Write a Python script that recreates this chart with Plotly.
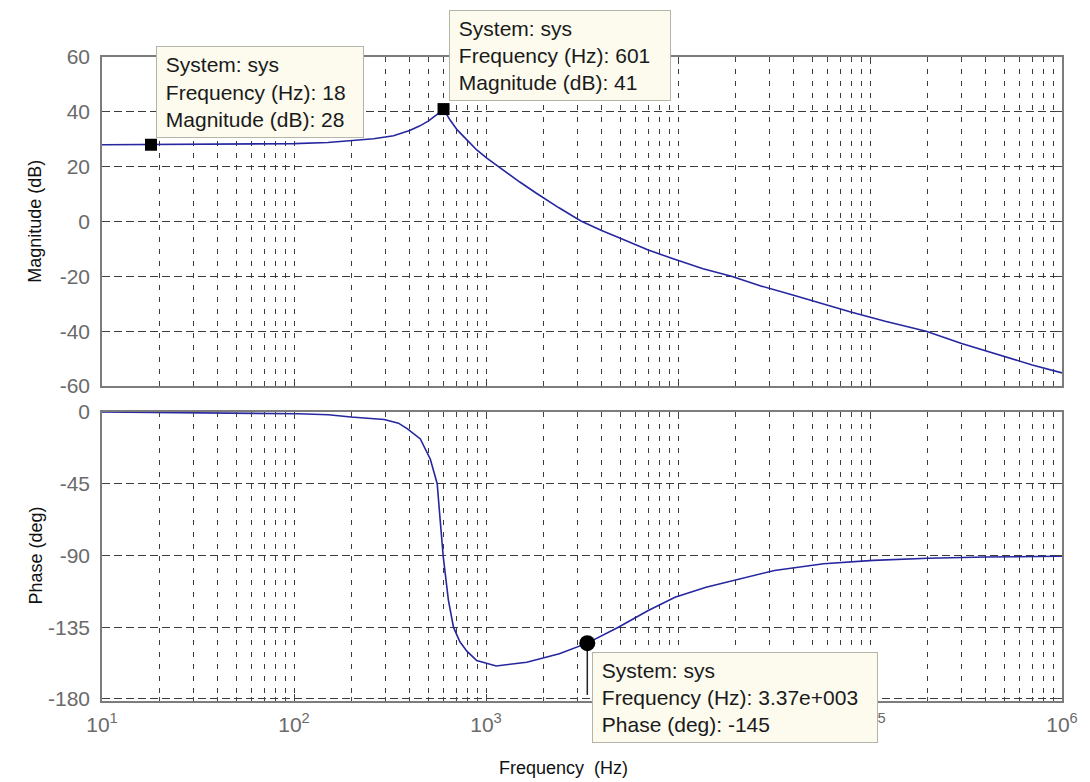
import plotly.graph_objects as go
import math

# ---------------- data ----------------
mag_freq = [10, 50, 100, 150, 200, 260, 330, 400, 450, 500,
            550, 601, 650, 708, 800, 895, 1010, 1230, 1500, 1830,
            2400, 3120, 4000, 4900, 7000, 9440, 13500, 18970, 27000, 39600,
            55000, 79400, 120000, 196000, 300000, 464000, 700000, 1000000]
mag_db = [28.0, 28.1, 28.4, 28.8, 29.5, 30.2, 31.3, 33.2, 34.8, 36.6,
          38.8, 41.0, 37.0, 33.4, 29.6, 26.1, 23.1, 18.7, 14.4, 10.3,
          5.0, 0.2, -3.3, -5.8, -10.4, -13.6, -17.2, -20.0, -23.5, -26.8,
          -29.8, -33.0, -36.4, -40.0, -44.5, -48.6, -52.3, -55.2]

ph_freq = [10, 30, 60, 105, 151, 198, 295, 350, 390, 455,
           513, 557, 575, 599, 637, 677, 730, 795, 895, 970,
           1130, 1630, 2410, 3370, 4890, 7000, 9650, 14000, 19700, 31800,
           57300, 104000, 200000, 400000, 1000000]
ph_deg = [0.0, -0.3, -0.6, -1.1, -1.7, -3.2, -4.7, -7.0, -10.6, -16.9,
          -29.6, -45.0, -65.5, -90.9, -118.0, -135.0, -144.0, -150.0, -155.9, -157.0,
          -159.3, -157.0, -151.7, -145.0, -135.0, -124.5, -116.2, -110.0, -105.7, -99.4,
          -95.2, -93.1, -91.8, -91.0, -90.5]

# data tips
tip_mag_freq = [18, 601]
tip_mag_db = [28, 41]
tip_ph_freq = [3370]
tip_ph_deg = [-145]
tip_ph_pointer_end = -177.5
tip_texts = [
    "System: sys<br>Frequency (Hz): 18<br>Magnitude (dB): 28",
    "System: sys<br>Frequency (Hz): 601<br>Magnitude (dB): 41",
    "System: sys<br>Frequency (Hz): 3.37e+003<br>Phase (deg): -145",
]

x_tickvals = [10, 100, 1000, 10000, 100000, 1000000]
x_ticktext = ["10<sup>1</sup>", "10<sup>2</sup>", "10<sup>3</sup>",
              "10<sup>4</sup>", "10<sup>5</sup>", "10<sup>6</sup>"]
mag_tickvals = [60, 40, 20, 0, -20, -40, -60]
mag_ticktext = ["60", "40", "20", "0", "-20", "-40", "-60"]
ph_tickvals = [0, -45, -90, -135, -180]
ph_ticktext = ["0", "-45", "-90", "-135", "-180"]

# ---------------- styling ----------------
LINE_COLOR = "#2626A0"
GRID_COLOR = "#3a3a3a"
FRAME_COLOR = "#7c7c7c"
TICK_FONT = dict(family="Liberation Sans, Arial, sans-serif", size=21, color="#6a6a6a")
LABEL_FONT = dict(family="Liberation Sans, Arial, sans-serif", size=18, color="#111111")
TIP_FONT = dict(family="Liberation Sans, Arial, sans-serif", size=21, color="#1a1a1a")

fig = go.Figure()

fig.add_trace(go.Scatter(x=mag_freq, y=mag_db, mode="lines",
                         line=dict(color=LINE_COLOR, width=1.6),
                         xaxis="x", yaxis="y", showlegend=False))
fig.add_trace(go.Scatter(x=ph_freq, y=ph_deg, mode="lines",
                         line=dict(color=LINE_COLOR, width=1.6),
                         xaxis="x2", yaxis="y2", showlegend=False))

# pointer line of the phase data tip
fig.add_trace(go.Scatter(x=[tip_ph_freq[0], tip_ph_freq[0]],
                         y=[tip_ph_deg[0], tip_ph_pointer_end], mode="lines",
                         line=dict(color="#222222", width=1.5),
                         xaxis="x2", yaxis="y2", showlegend=False))

fig.add_trace(go.Scatter(x=tip_mag_freq, y=tip_mag_db, mode="markers",
                         marker=dict(symbol="square", size=12, color="black"),
                         xaxis="x", yaxis="y", showlegend=False))
fig.add_trace(go.Scatter(x=tip_ph_freq, y=tip_ph_deg, mode="markers",
                         marker=dict(symbol="circle", size=16, color="black"),
                         xaxis="x2", yaxis="y2", showlegend=False))

common_x = dict(
    type="log", range=[1, 6],
    tickmode="array", tickvals=x_tickvals, ticktext=x_ticktext,
    showgrid=True, gridcolor=GRID_COLOR, gridwidth=1.2, griddash="5px,7px",
    showline=True, linecolor=FRAME_COLOR, linewidth=1.5, mirror="ticks",
    ticks="inside", ticklen=7, tickcolor="#444444", tickwidth=1,
    minor=dict(dtick="D1", showgrid=True, gridcolor=GRID_COLOR, gridwidth=1.2,
               griddash="5px,7px", ticks="inside", ticklen=4, tickcolor="#444444"),
    zeroline=False, tickfont=TICK_FONT,
)
common_y = dict(
    showgrid=True, gridcolor=GRID_COLOR, gridwidth=1.2, griddash="8px,4px",
    showline=True, linecolor=FRAME_COLOR, linewidth=1.5, mirror="ticks",
    ticks="inside", ticklen=6, tickcolor="#444444", tickwidth=1,
    zeroline=False, tickfont=TICK_FONT, ticklabelstandoff=6,
)

fig.update_layout(
    width=1090, height=782, autosize=False,
    paper_bgcolor="white", plot_bgcolor="white",
    margin=dict(l=102, r=20, t=57, b=81),
    xaxis=dict(common_x, domain=[0, 1], anchor="y", showticklabels=False),
    xaxis2=dict(common_x, domain=[0, 1], anchor="y2", matches="x",
                showticklabels=True, ticklabelstandoff=4),
    yaxis=dict(common_y, domain=[0.4891, 1], range=[-60, 60], anchor="x",
               tickmode="array", tickvals=mag_tickvals, ticktext=mag_ticktext),
    yaxis2=dict(common_y, domain=[0, 0.4488], range=[-181.3, 0], anchor="x2",
                tickmode="array", tickvals=ph_tickvals, ticktext=ph_ticktext),
    showlegend=False,
    hovermode=False,
)

annotations = []
# axis titles
annotations.append(dict(text="Magnitude (dB)", xref="paper", yref="paper",
                        x=-0.0692, y=0.745, textangle=-90, showarrow=False,
                        font=LABEL_FONT, xanchor="center", yanchor="middle"))
annotations.append(dict(text="Phase (deg)", xref="paper", yref="paper",
                        x=-0.0692, y=0.2252, textangle=-90, showarrow=False,
                        font=LABEL_FONT, xanchor="center", yanchor="middle"))
annotations.append(dict(text="Frequency  (Hz)", xref="paper", yref="paper",
                        x=0.4804, y=-0.104, showarrow=False,
                        font=LABEL_FONT, xanchor="center", yanchor="middle"))

tip_box = dict(showarrow=False, align="left", valign="middle",
               bgcolor="#FCFBEE", bordercolor="#B4B4AA", borderwidth=1,
               borderpad=3, font=TIP_FONT)
# magnitude tips
annotations.append(dict(tip_box, text="\u00a0" + tip_texts[0].replace("<br>", "<br>\u00a0"),
                        xref="x", yref="y",
                        x=math.log10(tip_mag_freq[0]), y=tip_mag_db[0],
                        xanchor="left", yanchor="bottom", xshift=5, yshift=7,
                        width=200, height=84))
annotations.append(dict(tip_box, text="\u00a0" + tip_texts[1].replace("<br>", "<br>\u00a0"),
                        xref="x", yref="y",
                        x=math.log10(tip_mag_freq[1]), y=tip_mag_db[1],
                        xanchor="left", yanchor="bottom", xshift=5, yshift=8,
                        width=214, height=83))
annotations.append(dict(tip_box, text="\u00a0" + tip_texts[2].replace("<br>", "<br>\u00a0"),
                        xref="x2", yref="y2",
                        x=math.log10(tip_ph_freq[0]), y=tip_ph_deg[0],
                        xanchor="left", yanchor="top", xshift=5, yshift=-9,
                        width=278, height=83))

fig.update_layout(annotations=annotations)

fig.write_html("out.html")
